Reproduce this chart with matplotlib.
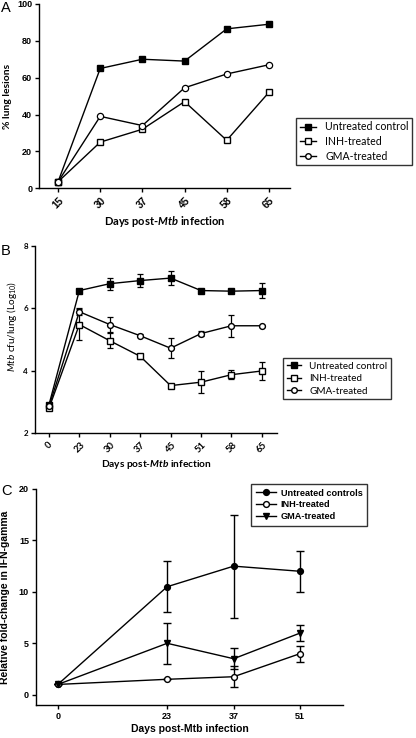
import matplotlib
matplotlib.use("Agg")
import matplotlib.pyplot as plt
from matplotlib.lines import Line2D
import numpy as np

# ---------------- Panel A data ----------------
a_days = ["15", "30", "37", "45", "58", "65"]
a_untreated = [3.5, 65, 70, 69, 86.5, 89]
a_inh = [3.5, 25, 32, 47, 26, 52]
a_gma = [3.5, 39, 34, 54.5, 62, 67]

# ---------------- Panel B data ----------------
b_days = ["0", "23", "30", "37", "45", "51", "58", "65"]
b_untreated = [2.9, 6.57, 6.79, 6.89, 6.97, 6.57, 6.55, 6.57]
b_untreated_err = [0.05, 0.04, 0.19, 0.2, 0.22, 0.03, 0.05, 0.23]
b_inh = [2.79, 5.48, 4.96, 4.46, 3.52, 3.63, 3.87, 3.99]
b_inh_err = [0.05, 0.5, 0.24, 0.08, 0.04, 0.35, 0.15, 0.3]
b_gma = [2.85, 5.89, 5.48, 5.12, 4.72, 5.19, 5.44, 5.44]
b_gma_err = [0.05, 0.12, 0.24, 0.04, 0.33, 0.08, 0.36, 0.03]

# ---------------- Panel C data ----------------
c_days = [0, 23, 37, 51]
c_untreated = [1.0, 10.5, 12.5, 12.0]
c_untreated_err = [0.0, 2.5, 5.0, 2.0]
c_inh = [1.0, 1.5, 1.75, 4.0]
c_inh_err = [0.0, 0.0, 1.0, 0.78]
c_gma = [1.0, 5.0, 3.5, 6.0]
c_gma_err = [0.0, 2.0, 1.0, 0.8]

plt.rcParams["mathtext.fontset"] = "custom"
plt.rcParams["mathtext.rm"] = "Lato"
plt.rcParams["mathtext.it"] = "Lato:italic"
plt.rcParams["mathtext.bf"] = "Lato:bold"
plt.rcParams["mathtext.bfit"] = "Lato:italic:bold"

fig = plt.figure(figsize=(4.16, 7.38), dpi=100)
arial = "Liberation Sans"
lato = "Lato"

def prism(ax):
    for s in ["top", "right"]:
        ax.spines[s].set_visible(False)
    for s in ["left", "bottom"]:
        ax.spines[s].set_linewidth(1.0)
    ax.tick_params(direction="out", width=1.0, length=3, pad=2)

def handles(markers, fills, ms):
    return [Line2D([], [], color="black", lw=1.0, marker=m, mfc=f, mec="black", ms=ms)
            for m, f in zip(markers, fills)]

# ---------------- Panel A ----------------
axA = fig.add_axes([0.094, 0.745, 0.603, 0.2496])
xa = np.arange(len(a_days))
axA.plot(xa, a_untreated, "-s", color="black", mfc="black", ms=4.5, lw=1.0)
axA.plot(xa, a_inh, "-s", color="black", mfc="white", ms=4.5, lw=1.0, mew=1.0)
axA.plot(xa, a_gma, "-o", color="black", mfc="white", ms=4.5, lw=1.0, mew=0.9)
axA.set_xlim(-0.45, 5.5)
axA.set_ylim(0, 100)
axA.set_yticks([0, 20, 40, 60, 80, 100])
axA.set_xticks(xa)
axA.set_xticklabels(a_days, rotation=45, fontsize=7.2, fontweight="bold", family=arial)
for t in axA.get_yticklabels():
    t.set_fontsize(6.5); t.set_fontweight("bold"); t.set_family(arial)
prism(axA)
fig.text(0.017, 0.87, "% lung lesions", rotation=90, fontsize=7.5, fontweight="bold",
         family=lato, ha="center", va="center")
axA.set_xlabel(r"Days post-$\mathbfit{Mtb}$ infection", fontsize=8, fontweight="bold",
               family=lato, labelpad=3)
legA = axA.legend(handles(["s", "s", "o"], ["black", "white", "white"], 4.0),
                  ["Untreated control", "INH-treated", "GMA-treated"],
                  loc="center left", bbox_to_anchor=(1.024, 0.253), borderaxespad=0,
                  prop=dict(family=lato, size=7.6), frameon=True,
                  fancybox=False, edgecolor="black", borderpad=0.35, handlelength=1.5,
                  handletextpad=0.9, labelspacing=0.35)
legA.get_frame().set_linewidth(1.0)
fig.text(0.002, 0.989, "A", fontsize=10.5, va="center", ha="left", family=arial)

# ---------------- Panel B ----------------
axB = fig.add_axes([0.084, 0.4133, 0.582, 0.2534])
xb = np.arange(len(b_days))
kw = dict(color="black", lw=1.0, ms=4.2, capsize=2.2, elinewidth=0.9, capthick=0.9)
axB.errorbar(xb, b_untreated, yerr=b_untreated_err, fmt="-s", mfc="black", **kw)
axB.errorbar(xb, b_inh, yerr=b_inh_err, fmt="-s", mfc="white", **kw)
axB.errorbar(xb, b_gma, yerr=b_gma_err, fmt="-o", mfc="white", **kw)
axB.set_xlim(-0.46, 7.5)
axB.set_ylim(2, 8)
axB.set_yticks([2, 4, 6, 8])
axB.set_xticks(xb)
axB.set_xticklabels(b_days, rotation=45, fontsize=6.8, fontweight="bold", family=lato)
for t in axB.get_yticklabels():
    t.set_fontsize(5.8); t.set_family(lato); t.set_fontweight("bold")
prism(axB)
fig.text(0.029, 0.558, r"$\mathit{Mtb}$ cfu/lung (Log$_{10}$)", rotation=90, fontsize=7.2,
         family=lato, ha="center", va="center")
axB.set_xlabel(r"Days post-$\mathbfit{Mtb}$ infection", fontsize=7.3, fontweight="bold",
               family=lato, labelpad=3)
legB = axB.legend(handles(["s", "s", "o"], ["black", "white", "white"], 4.0),
                  ["Untreated control", "INH-treated", "GMA-treated"],
                  loc="center left", bbox_to_anchor=(1.025, 0.29), borderaxespad=0,
                  prop=dict(family=lato, size=7.1), frameon=True,
                  fancybox=False, edgecolor="black", borderpad=0.35, handlelength=1.5,
                  handletextpad=0.8, labelspacing=0.35)
legB.get_frame().set_linewidth(1.0)
fig.text(0.002, 0.66, "B", fontsize=10.5, va="center", ha="left", family=arial)

# ---------------- Panel C ----------------
axC = fig.add_axes([0.0865, 0.0447, 0.738, 0.2927])
kwc = dict(color="black", lw=1.0, ms=4.2, capsize=3, elinewidth=1.0, capthick=1.0)
axC.errorbar(c_days, c_untreated, yerr=c_untreated_err, fmt="-o", mfc="black", **kwc)
axC.errorbar(c_days, c_inh, yerr=c_inh_err, fmt="-o", mfc="white", **kwc)
axC.errorbar(c_days, c_gma, yerr=c_gma_err, fmt="-v", mfc="black", **kwc)
axC.set_xlim(-4.6, 60)
axC.set_ylim(-1, 20)
axC.set_yticks([0, 5, 10, 15, 20])
axC.set_xticks(c_days)
for t in axC.get_xticklabels() + axC.get_yticklabels():
    t.set_fontsize(6.5); t.set_fontweight("bold"); t.set_family(arial)
prism(axC)
fig.text(0.013, 0.19, "Relative fold-change in IFN-gamma", rotation=90, fontsize=7.5,
         fontweight="bold", family=arial, ha="center", va="center")
axC.set_xlabel("Days post-Mtb infection", fontsize=7.5, fontweight="bold", family=arial, labelpad=2)
legC = axC.legend(handles(["o", "o", "v"], ["black", "white", "black"], 4.2),
                  ["Untreated controls", "INH-treated", "GMA-treated"],
                  loc="upper right", bbox_to_anchor=(1.078, 1.023), borderaxespad=0,
                  prop=dict(family=arial, weight="bold", size=6.6),
                  frameon=True, fancybox=False, edgecolor="black", borderpad=0.5, handlelength=2.2,
                  handletextpad=0.5, labelspacing=0.3)
legC.get_frame().set_linewidth(1.0)
fig.text(0.002, 0.335, "C", fontsize=10.5, va="center", ha="left", family=arial)

fig.savefig("out.png", dpi=100)
